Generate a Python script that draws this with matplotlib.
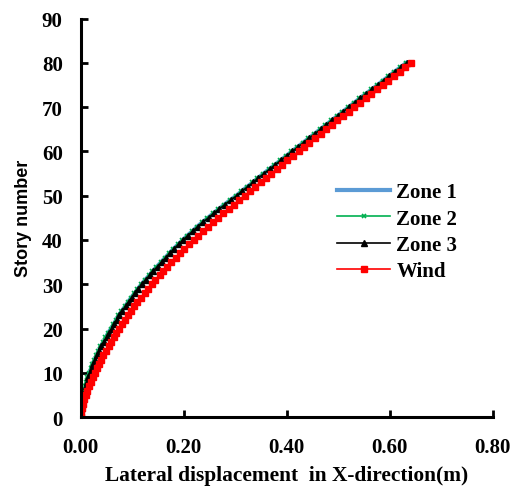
import matplotlib
matplotlib.use("Agg")
import matplotlib.pyplot as plt

plt.rcParams["font.family"] = "Liberation Serif"
plt.rcParams["font.weight"] = "bold"

stories = list(range(0, 81))

wind = [
    0.000, 0.001, 0.003, 0.005, 0.007, 0.010, 0.013, 0.016, 0.020, 0.023,
    0.027, 0.031, 0.035, 0.040, 0.044, 0.049, 0.054, 0.059, 0.064, 0.069,
    0.075, 0.080, 0.086, 0.092, 0.098, 0.104, 0.110, 0.117, 0.124, 0.131,
    0.138, 0.145, 0.153, 0.160, 0.168, 0.176, 0.184, 0.193, 0.201, 0.210,
    0.219, 0.228, 0.238, 0.247, 0.257, 0.267, 0.277, 0.287, 0.297, 0.307,
    0.318, 0.328, 0.338, 0.349, 0.359, 0.370, 0.380, 0.391, 0.401, 0.412,
    0.423, 0.433, 0.444, 0.455, 0.466, 0.476, 0.487, 0.498, 0.509, 0.520,
    0.531, 0.542, 0.553, 0.564, 0.575, 0.586, 0.597, 0.608, 0.619, 0.630,
    0.641,
]

zone3 = [
    0.000, 0.001, 0.002, 0.003, 0.005, 0.007, 0.009, 0.011, 0.013, 0.015,
    0.018, 0.021, 0.024, 0.028, 0.032, 0.036, 0.040, 0.045, 0.050, 0.054,
    0.060, 0.065, 0.070, 0.075, 0.081, 0.087, 0.093, 0.099, 0.106, 0.112,
    0.119, 0.126, 0.134, 0.141, 0.149, 0.157, 0.165, 0.173, 0.181, 0.190,
    0.199, 0.208, 0.218, 0.227, 0.237, 0.248, 0.258, 0.269, 0.280, 0.291,
    0.303, 0.313, 0.324, 0.335, 0.345, 0.356, 0.367, 0.378, 0.389, 0.400,
    0.411, 0.422, 0.433, 0.444, 0.455, 0.466, 0.477, 0.488, 0.499, 0.510,
    0.521, 0.532, 0.543, 0.554, 0.566, 0.577, 0.588, 0.599, 0.610, 0.622,
    0.633,
]

zone2 = [
    0.000, 0.000, 0.001, 0.002, 0.003, 0.005, 0.007, 0.009, 0.011, 0.013,
    0.016, 0.019, 0.022, 0.026, 0.030, 0.034, 0.038, 0.043, 0.048, 0.052,
    0.058, 0.063, 0.068, 0.073, 0.079, 0.085, 0.091, 0.097, 0.104, 0.110,
    0.117, 0.124, 0.132, 0.139, 0.147, 0.155, 0.163, 0.171, 0.179, 0.188,
    0.197, 0.206, 0.216, 0.225, 0.235, 0.246, 0.256, 0.267, 0.278, 0.289,
    0.301, 0.311, 0.322, 0.333, 0.343, 0.354, 0.365, 0.376, 0.387, 0.398,
    0.409, 0.420, 0.431, 0.442, 0.453, 0.464, 0.475, 0.486, 0.497, 0.508,
    0.519, 0.530, 0.541, 0.552, 0.564, 0.575, 0.586, 0.597, 0.608, 0.620,
    0.631,
]

zone1 = [
    0.000, 0.000, 0.001, 0.002, 0.004, 0.006, 0.008, 0.010, 0.012, 0.014,
    0.017, 0.020, 0.023, 0.027, 0.031, 0.035, 0.039, 0.044, 0.049, 0.053,
    0.059, 0.064, 0.069, 0.074, 0.080, 0.086, 0.092, 0.098, 0.105, 0.111,
    0.118, 0.125, 0.133, 0.140, 0.148, 0.156, 0.164, 0.172, 0.180, 0.189,
    0.198, 0.207, 0.217, 0.226, 0.236, 0.247, 0.257, 0.268, 0.279, 0.290,
    0.302, 0.312, 0.323, 0.334, 0.344, 0.355, 0.366, 0.377, 0.388, 0.399,
    0.410, 0.421, 0.432, 0.443, 0.454, 0.465, 0.476, 0.487, 0.498, 0.509,
    0.520, 0.531, 0.542, 0.553, 0.565, 0.576, 0.587, 0.598, 0.609, 0.621,
    0.632,
]

x_ticks = [0.0, 0.2, 0.4, 0.6, 0.8]
y_ticks = [0, 10, 20, 30, 40, 50, 60, 70, 80, 90]

fig = plt.figure(figsize=(5.21, 4.89), dpi=100)
ax = fig.add_axes([0.155, 0.145, 0.791, 0.815])

ax.plot(zone1, stories, color="#5B9BD5", lw=3, label="Zone 1")
ax.plot(zone2, stories, color="#00B050", lw=1.2, marker="x", ms=3.5, mew=1.2, label="Zone 2")
ax.plot(zone3, stories, color="black", lw=1.2, marker="^", ms=4, label="Zone 3")
ax.plot(wind, stories, color="red", lw=1.2, marker="s", ms=4.5, label="Wind")

ax.set_xlim(0, 0.8)
ax.set_ylim(0, 90)
ax.set_xticks(x_ticks)
ax.set_yticks(y_ticks)
ax.set_xticklabels([f"{v:.2f}" for v in x_ticks])
ax.set_yticklabels([str(v) for v in y_ticks])

for side in ["top", "right"]:
    ax.spines[side].set_visible(False)
for side in ["left", "bottom"]:
    ax.spines[side].set_linewidth(2.2)

ax.tick_params(direction="in", length=5, width=2, labelsize=15)
ax.tick_params(axis="x", pad=14)
ax.tick_params(axis="y", pad=13)

ax.set_xlabel("Lateral displacement  in X-direction(m)", fontsize=15.4, fontweight="bold", labelpad=6)
ax.set_ylabel("Story number", fontsize=13, fontweight="bold", family="Liberation Sans", labelpad=7)

ax.legend(
    loc="upper left",
    bbox_to_anchor=(0.647, 0.625),
    bbox_transform=fig.transFigure,
    frameon=False,
    fontsize=15,
    handlelength=2.55,
    handletextpad=0.3,
    labelspacing=0.3,
    borderpad=0,
    borderaxespad=0,
)

fig.savefig("out.png", dpi=100)
